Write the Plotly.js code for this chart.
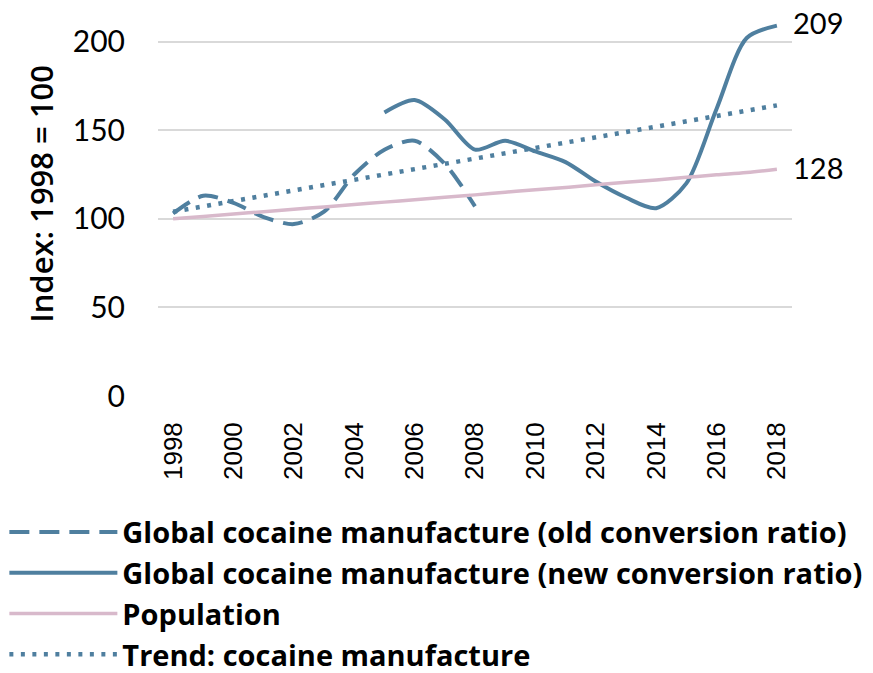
<!DOCTYPE html>
<html><head><meta charset="utf-8">
<script src="https://cdn.plot.ly/plotly-3.0.1.min.js"></script>
<style>html,body{margin:0;padding:0;background:#fff}#chart{width:873px;height:673px}</style>
</head><body><div id="chart"></div>
<script>
const years = [1998,1999,2000,2001,2002,2003,2004,2005,2006,2007,2008,2009,2010,2011,2012,2013,2014,2015,2016,2017,2018];
const oldYears = [1998,1999,2000,2001,2002,2003,2004,2005,2006,2007,2008];
const oldRatio = [103,113,109,101,97,104,125,139,144,131,107];
const newYears = [2005,2006,2007,2008,2009,2010,2011,2012,2013,2014,2015,2016,2017,2018];
const newRatio = [160,167,156,139,144,138,132,121,112,106,120,162,202,209];
const population = [100,101.3,102.7,104.0,105.4,106.7,108.1,109.4,110.8,112.1,113.5,115.0,116.4,117.7,119.2,120.6,121.9,123.4,124.8,126.1,128];
const trend = [104,107,110,113,116,119,122,125,128,131,134,137,140,143,146,149,152,155,158,161,164];
const tickYears = [1998,2000,2002,2004,2006,2008,2010,2012,2014,2016,2018];
const tickLabels = ["1998","2000","2002","2004","2006","2008","2010","2012","2014","2016","2018"];
const seriesNames = ["Global cocaine manufacture (old conversion ratio)","Global cocaine manufacture (new conversion ratio)","Population","Trend: cocaine manufacture"];
const endLabels = ["209","128"];
const yTitle = 'Index: 1998 = 100';

const blue = '#4f7f9f';
const pink = '#d8b9cb';
const txtFont = 'Lato, "Open Sans", sans-serif';
const legFont = '"Open Sans", Lato, sans-serif';

const traces = [
  {x: oldYears, y: oldRatio, name: seriesNames[0], mode:'lines', line:{color: blue, width:4, dash:'20px,10px', shape:'spline', smoothing:0.8}},
  {x: newYears, y: newRatio, name: seriesNames[1], mode:'lines', line:{color: blue, width:4, shape:'spline', smoothing:0.8}},
  {x: years, y: population, name: seriesNames[2], mode:'lines', line:{color: pink, width:3.5, shape:'spline'}},
  {x: years, y: trend, name: seriesNames[3], mode:'lines', line:{color: blue, width:4.5, dash:'4px,7.5px'}}
];

const layout = {
  width: 873, height: 673,
  margin: {l:158, r:81, t:15, b:277, autoexpand:false},
  paper_bgcolor:'#fff', plot_bgcolor:'#fff',
  showlegend: true,
  legend: {xref:'container', yref:'container', x:0.005, y:0.247, xanchor:'left', yanchor:'top',
    font:{family: legFont, size:29, color:'#000', weight:700}, itemwidth:108, tracegroupgap:0, traceorder:'normal'},
  xaxis: {range:[1997.5, 2018.5], tickmode:'array', tickvals: tickYears, ticktext: tickLabels,
    tickangle:-90, tickfont:{family:'"Liberation Sans", Arial, sans-serif', size:26, color:'#000'},
    showgrid:false, zeroline:false, showline:false, ticks:'', ticklabelstandoff:20},
  yaxis: {range:[0, 215], tickmode:'array', tickvals:[0,50,100,150,200],
    tickfont:{family: txtFont, size:30, color:'#000'}, showgrid:true, gridcolor:'#d9d9d9', gridwidth:2,
    zeroline:false, showline:false, ticks:'', ticklabelstandoff:32},
  annotations: [
    {x: years[years.length-1], y: newRatio[newRatio.length-1], xref:'x', yref:'y', text: endLabels[0], showarrow:false, xanchor:'left', xshift:14, yshift:3, font:{family: txtFont, size:29, color:'#000'}},
    {x: years[years.length-1], y: population[population.length-1], xref:'x', yref:'y', text: endLabels[1], showarrow:false, xanchor:'left', xshift:14, yshift:2, font:{family: txtFont, size:29, color:'#000'}},
    {xref:'paper', yref:'paper', x:-0.185, y:0.53, xanchor:'center', yanchor:'middle', text: yTitle, textangle:-90, showarrow:false, font:{family: legFont, size:31, color:'#000', weight:600}}
  ]
};
Plotly.newPlot('chart', traces, layout, {staticPlot:true, displayModeBar:false});
</script>
</body></html>
